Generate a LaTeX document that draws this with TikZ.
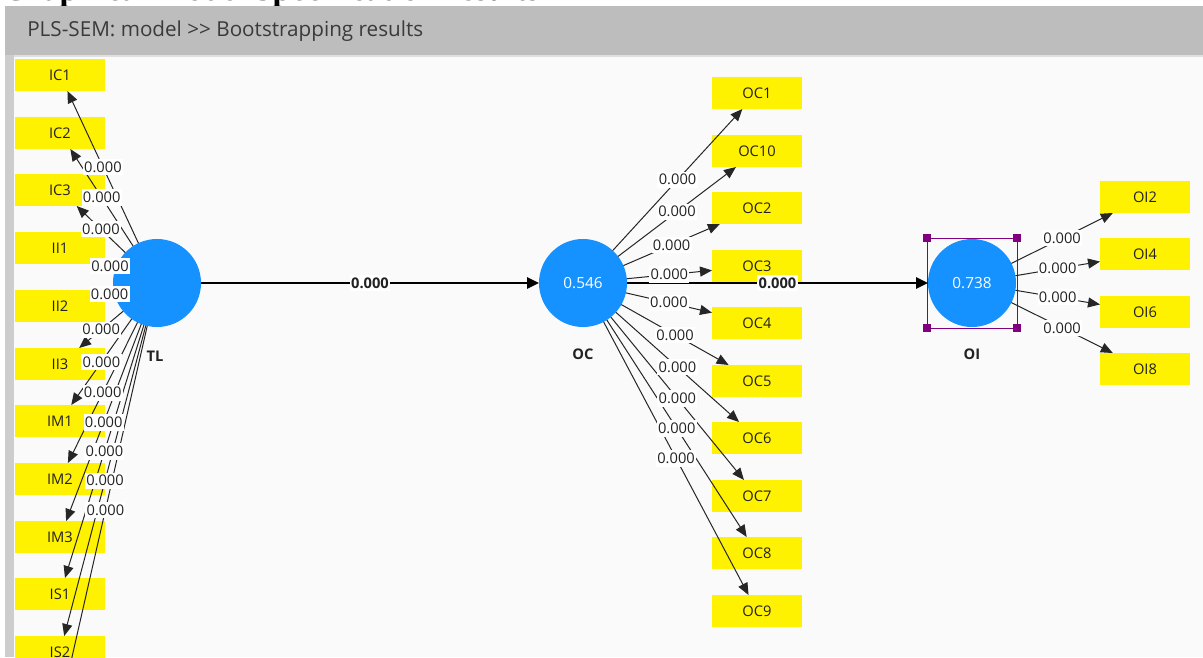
\documentclass[tikz,border=0pt]{standalone}
\usepackage{fontspec}
\setmainfont{Open Sans}
\newfontfamily\serifhead{Liberation Serif}
\usetikzlibrary{arrows.meta}
\definecolor{lvblue}{HTML}{1592FF}
\definecolor{hdrgray}{HTML}{BDBDBD}
\definecolor{hdrtext}{HTML}{3A3A3A}
\definecolor{canvasbg}{HTML}{FAFAFA}
\definecolor{selpurple}{HTML}{800080}
\definecolor{txtdark}{HTML}{222222}
\definecolor{barGray}{HTML}{CDCDCD}
\begin{document}
\begin{tikzpicture}[x=0.75pt,y=-0.75pt,
  ind/.style={fill=yellow, minimum width=67.5pt, minimum height=24pt, inner sep=0pt, outer sep=0pt, font=\fontsize{11}{13}\selectfont, text=txtdark},
  lv/.style={circle, fill=lvblue, minimum size=66pt, inner sep=0pt, outer sep=0pt, text=white, font=\fontsize{11.5}{13}\selectfont},
  lvname/.style={font=\bfseries\fontsize{11}{13}\selectfont, text=txtdark},
  load/.style={draw=black!85, line width=0.75pt, -{Triangle[length=9pt,width=7.5pt]}},
  mainpath/.style={draw=black, line width=1.5pt, -{Triangle[length=9pt,width=8.5pt]}},
  wlab/.style={fill=white, inner xsep=1pt, inner ysep=2pt, font=\fontsize{11}{12}\selectfont, text=txtdark},
  blab/.style={wlab, font=\bfseries\fontsize{11}{12}\selectfont},
  handle/.style={fill=selpurple, minimum size=5.5pt, inner sep=0pt, outer sep=0pt}
]
\useasboundingbox (0,0) rectangle (1203,657);
\clip (0,0) rectangle (1203,657);
\fill[white] (0,0) rectangle (1203,657);
% clipped caption above the window
\node[anchor=base west, inner sep=0pt, font=\serifhead\bfseries\fontsize{25}{30}\selectfont] (cap) at (2,0.5) {Graphical Model Specification results};
% window chrome
\fill[hdrgray] (5,6) rectangle (1203,55);
\fill[black!12] (5,55) rectangle (1203,57);
\fill[canvasbg] (14,57) rectangle (1203,657);
\fill[barGray] (5,55) rectangle (14,657);
\node[anchor=west, inner sep=0pt, font=\fontsize{15.5}{18}\selectfont, text=hdrtext] (title) at (27,31) {PLS-SEM: model >{}> Bootstrapping results};
% indicators
\foreach \n/\y in {IC1/75,IC2/133,IC3/190,II1/248,II2/306,II3/364,IM1/421,IM2/479,IM3/537,IS1/594,IS2/652}
  \node[ind] (\n) at (60,\y) {\n};
\foreach \n/\y in {OC1/93,OC10/151,OC2/208,OC3/266,OC4/323,OC5/381,OC6/438,OC7/496,OC8/553,OC9/611}
  \node[ind] (\n) at (757,\y) {\n};
\foreach \n/\y in {OI2/197,OI4/254,OI6/312,OI8/369}
  \node[ind] (\n) at (1145,\y) {\n};
\coordinate (ISx) at (63.6,694);
% latent variables
\node[lv] (TL) at (157,283) {};
\node[lv] (OC) at (583,283) {0.546};
\node[lv] (OI) at (972,283) {0.738};
\node[lvname] (TLn) at (155,356) {TL};
\node[lvname] (OCn) at (583,354) {OC};
\node[lvname] (OIn) at (972,354) {OI};
% selection frame
\draw[selpurple, line width=0.75pt] (927,238) rectangle (1017,328);
\node[handle] (h1) at (927,238) {};
\node[handle] (h2) at (1017,238) {};
\node[handle] (h3) at (927,328) {};
\node[handle] (h4) at (1017,328) {};
% loadings
\foreach \n in {IC1,IC2,IC3,II1,II2,II3,IM1,IM2,IM3,IS1,IS2}
  \draw[load] (TL) -- (\n);
\draw[draw=black!85, line width=0.75pt] (TL) -- (ISx);
\foreach \n in {OC1,OC10,OC2,OC3,OC4,OC5,OC6,OC7,OC8,OC9}
  \draw[load] (OC) -- (\n);
\foreach \n in {OI2,OI4,OI6,OI8}
  \draw[load] (OI) -- (\n);
% structural paths
\draw[mainpath] (TL) -- (OC);
\draw[mainpath] (OC) -- (OI);
% labels
\foreach \n in {IC1,IC2,IC3,II1,II2,II3,IM1,IM2,IM3,IS1,IS2,ISx}
  \path (TL) -- (\n) node[wlab, midway] {0.000};
\foreach \n in {OC1,OC10,OC2,OC3,OC4,OC5,OC6,OC7,OC8,OC9}
  \path (OC) -- (\n) node[wlab, midway] {0.000};
\foreach \n in {OI2,OI4,OI6,OI8}
  \path (OI) -- (\n) node[wlab, midway] {0.000};
\path (TL) -- (OC) node[blab, midway] {0.000};
\path (OC) -- (OI) node[blab, midway] {0.000};
\end{tikzpicture}
\end{document}
